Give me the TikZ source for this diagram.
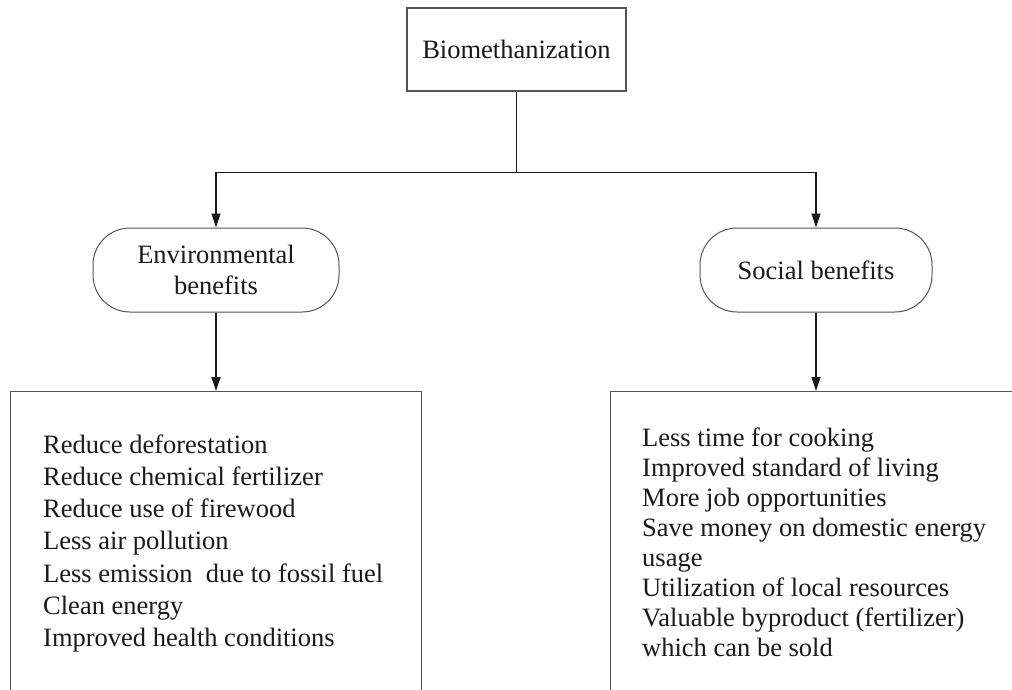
\documentclass[tikz,border=0pt]{standalone}
\usepackage{fontspec}
\setmainfont{Liberation Serif}
\usetikzlibrary{arrows.meta}
\definecolor{figink}{HTML}{1A1A1A}
\definecolor{frameline}{HTML}{555555}
\newcommand{\itemsize}{\fontsize{26.5}{31.3}\selectfont}

\begin{document}
\begin{tikzpicture}[
  x=1pt,
  y=1pt,
  every node/.style={font=\itemsize, text=figink},
  topbox/.style={draw=frameline, line width=1.3pt, minimum width=219pt,
               minimum height=83pt, inner sep=0pt},
  pill/.style={draw=frameline, line width=1pt, rounded corners=37pt,
               minimum height=84pt, inner sep=0pt, align=center},
  listbox/.style={draw=frameline, line width=1.3pt, minimum width=411pt,
               minimum height=330pt, inner sep=0pt, anchor=north},
  item/.style={anchor=base west, inner sep=0pt},
  link/.style={figink, line width=1.2pt},
  arrow/.style={link, -{Triangle[length=14pt, width=9pt]}}
]
  \useasboundingbox (0,0) rectangle (1012,-689);
  \fill[white] (0,0) rectangle (1012,-689);
  \clip (0,0) rectangle (1012,-689);

  % ---- heading and the two branches ------------------------------------
  \node[topbox] (bio) at (516.5,-49.5) {Biomethanization};
  \node[pill, minimum width=246pt] (env) at (216,-270) {Environmental\\benefits};
  \node[pill, minimum width=232pt] (soc) at (816,-270) {Social benefits};

  \coordinate (fork) at (516.5,-172.7);
  \draw[link] (bio.south) -- (fork);
  \draw[arrow] (fork) -| (env.north);
  \draw[arrow] (fork) -| (soc.north);

  % ---- the two lists; both boxes run past the lower edge ---------------
  \node[listbox] (envbox) at (216,-391) {};
  \node[listbox] (socbox) at (816,-391) {};
  \draw[arrow] (env.south) -- (envbox.north);
  \draw[arrow] (soc.south) -- (socbox.north);

  \foreach \txt [count=\i from 0] in {Reduce deforestation,
      Reduce chemical fertilizer, Reduce use of firewood, Less air pollution,
      Less emission\ \ due to fossil fuel, Clean energy,
      Improved health conditions}
    \node[item] (envitem\i) at (43,{-453.3-32.2*\i}) {\txt};

  \foreach \txt [count=\i from 0] in {Less time for cooking,
      Improved standard of living, More job opportunities,
      Save money on domestic energy, usage, Utilization of local resources,
      Valuable byproduct (fertilizer), which can be sold}
    \node[item] (socitem\i) at (642,{-446-30.1*\i}) {\txt};
\end{tikzpicture}
\end{document}
